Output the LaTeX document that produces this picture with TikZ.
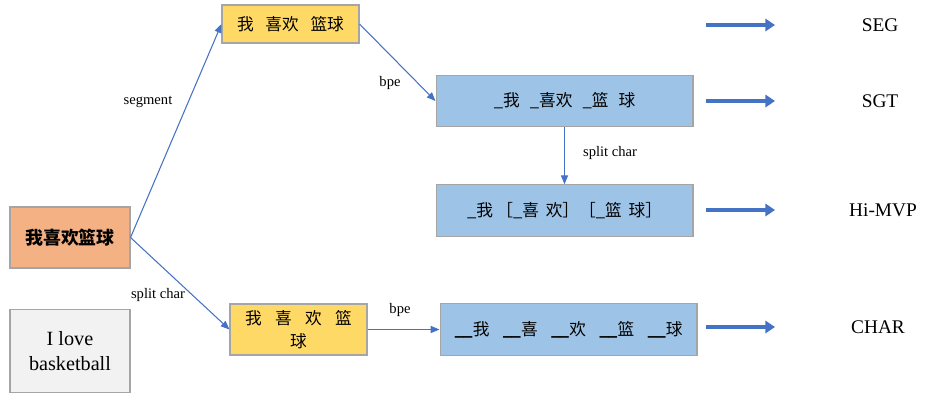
\documentclass[tikz,border=0pt]{standalone}
\usepackage{fontspec}
\setmainfont{Liberation Serif}
\newfontfamily\cjk{Noto Sans CJK SC}
\usepackage{tikz}
\usetikzlibrary{arrows.meta,positioning}

\definecolor{inorange}{HTML}{F4B183}
\definecolor{engray}{HTML}{F2F2F2}
\definecolor{segyellow}{HTML}{FFD966}
\definecolor{bpeblue}{HTML}{9DC3E6}
\definecolor{linkblue}{HTML}{4472C4}
\definecolor{edgegray}{HTML}{A5A5A5}

\newcommand{\ul}{{\bfseries\_\kern-0.5pt\_}}

\begin{document}
\begin{tikzpicture}[
                x=0.02cm, y=-0.02cm,
                every node/.style={font=\fontsize{9.5}{12}\selectfont},
                box/.style={
                    draw=edgegray,
                    line width=0.6pt,
                    align=center,
                    inner sep=0pt
                },
                wide/.style={box, fill=bpeblue, minimum width=5.14cm, minimum height=1.03cm},
                seg/.style={box, fill=segyellow, minimum width=2.74cm},
                lbl/.style={font=\fontsize{8.3}{10}\selectfont},
                tag/.style={font=\fontsize{11}{13}\selectfont},
                arrow/.style={-{Triangle[length=5pt,width=4pt]}, linkblue, line width=0.6pt},
                fat/.style={-{Triangle[length=5.5pt,width=7pt]}, linkblue, line width=2.4pt}
            ]

            \useasboundingbox (0,0) rectangle (928,397);

            % Input sentence and its translation
            \node[box, fill=inorange, minimum width=2.4cm, minimum height=1.22cm,
                  font=\fontsize{10.2}{12}\selectfont] (input) at (70,237.5)
                {\cjk\bfseries 我喜欢篮球};
            \node[box, fill=engray, minimum width=2.4cm, minimum height=1.66cm,
                  font=\fontsize{11.5}{14}\selectfont] (english) at (70,351)
                {I love\\basketball};

            % Word segmentation and character split
            \node[seg, minimum height=0.76cm] (segtop) at (290.5,24)
                {\cjk 我\hspace{0.7em}喜欢\hspace{0.7em}篮球};
            \node[seg, minimum height=1.02cm] (chartop) at (298.5,329.5)
                {\cjk 我\hspace{0.8em}喜\hspace{0.8em}欢\hspace{0.8em}篮\\[1pt]\cjk 球};

            % Subword units after bpe
            \node[wide] (sgt) at (564.5,101)
                {\cjk \_我\hspace{0.6em}\_喜欢\hspace{0.6em}\_篮\hspace{0.6em}球};
            \node[wide] (hmvp) at (564.5,210.5)
                {\cjk \_我\hspace{0.2em}［\_喜\hspace{0.4em}欢］［\_篮\hspace{0.4em}球］};
            \node[wide] (char) at (568.5,329.5)
                {\cjk \ul 我\hspace{0.8em}\ul 喜\hspace{0.8em}\ul 欢\hspace{0.8em}\ul 篮\hspace{0.8em}\ul 球};

            % Links between the steps
            \draw[arrow] (input.east) -- (segtop.west);
            \draw[arrow] (input.east) -- (chartop.west);
            \draw[arrow] (segtop.east) -- (sgt.west);
            \draw[arrow] (sgt.south) -- (hmvp.north);
            \draw[arrow] (chartop.east) -- (char.west);

            \node[lbl] (lseg) at (148,102) {segment};
            \node[lbl] (lsplit) at (158,295) {split char};
            \node[lbl] (lbpe) at (390,83) {bpe};
            \node[lbl] (lsplit2) at (610,153) {split char};
            \node[lbl] (lbpe2) at (400,310) {bpe};

            % Resulting methods
            \coordinate (s1) at (706,25);   \coordinate (e1) at (775,25);
            \coordinate (s2) at (706,101);  \coordinate (e2) at (775,101);
            \coordinate (s3) at (706,210);  \coordinate (e3) at (775,210);
            \coordinate (s4) at (706,327);  \coordinate (e4) at (775,327);
            \draw[fat] (s1) -- (e1);
            \draw[fat] (s2) -- (e2);
            \draw[fat] (s3) -- (e3);
            \draw[fat] (s4) -- (e4);

            \node[tag] (tseg) at (880,25) {SEG};
            \node[tag] (tsgt) at (880,101) {SGT};
            \node[tag] (thmvp) at (883,210) {Hi-MVP};
            \node[tag] (tchar) at (878,327) {CHAR};

        \end{tikzpicture}
\end{document}
